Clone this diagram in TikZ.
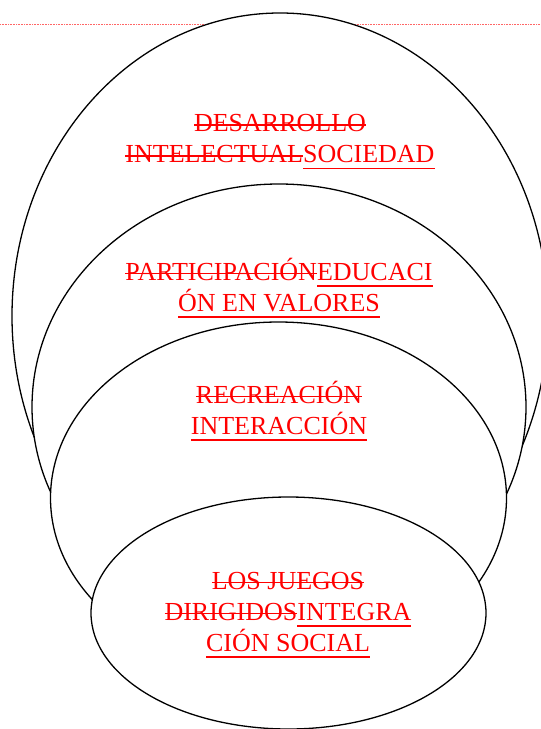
\documentclass[tikz,border=0pt]{standalone}
\usepackage{fontspec}
\setmainfont{Liberation Serif}
\usepackage{tikz}
\usetikzlibrary{shapes}
\usetikzlibrary{positioning}
\newcommand{\strk}[1]{\leavevmode\setbox0\hbox{#1}\rlap{\rule[6.1pt]{\wd0}{1.8pt}}\box0}
\newcommand{\undl}[1]{\leavevmode\setbox0\hbox{#1}\rlap{\rule[-6.4pt]{\wd0}{1.8pt}}\box0}
\tikzset{ring/.style={ellipse,draw=black,fill=white,line width=1.3pt,inner sep=0pt},
redtext/.style={text=red,align=center,inner sep=0pt,font=\fontsize{26}{31}\selectfont},
margin/.style={draw=red!60,densely dotted,line width=0.6pt}}

\begin{document}
\begin{tikzpicture}[x=1pt,y=-1pt]
  \useasboundingbox (0,0) rectangle (541,729);
  \coordinate (ml) at (0,24);
  \coordinate (mr) at (541,24);
  \draw [margin] (ml) -- (mr);
  % outer to inner
  \node (sociedad) [ring,minimum width=536pt,minimum height=606pt] at (280,316) {};
  \node (tsociedad) [redtext] at (280,142) {\strk{DESARROLLO}\\ \strk{INTELECTUAL}\undl{SOCIEDAD}};
  \node (valores) [ring,minimum width=494pt,minimum height=446pt] at (279,407) {};
  \node (tvalores) [redtext] at (279,288) {\strk{PARTICIPACIÓN}\undl{EDUCACI}\\ \undl{ÓN EN VALORES}};
  \node (interaccion) [ring,minimum width=456pt,minimum height=352pt] at (278.5,498) {};
  \node (tinteraccion) [redtext] at (279,411) {\strk{RECREACIÓN}\\ \undl{INTERACCIÓN}};
  \node (integracion) [ring,minimum width=395pt,minimum height=232pt] at (288.5,613) {};
  \node (tintegracion) [redtext] at (288,615) {\strk{LOS JUEGOS}\\ \strk{DIRIGIDOS}\undl{INTEGRA}\\ \undl{CIÓN SOCIAL}};
\end{tikzpicture}
\end{document}
